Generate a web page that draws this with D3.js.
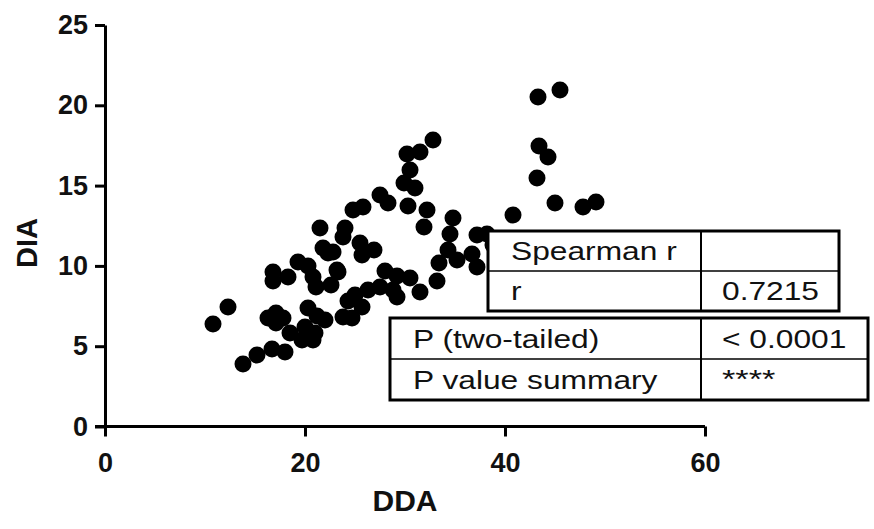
<!DOCTYPE html>
<html>
<head>
<meta charset="utf-8">
<script src="https://cdn.jsdelivr.net/npm/d3@7"></script>
<style>
  html, body { margin: 0; padding: 0; background: #fff; }
  svg { display: block; }
</style>
</head>
<body>
<svg id="chart" width="874" height="529"></svg>
<script>
// ---- data ----
const ddaValues = [
  10.8, 12.3, 13.8, 15.2, 16.7, 18.0, 16.3, 17.1, 17.1, 18.5,
  19.7, 20.8, 20.0, 21.0, 20.3, 22.0, 16.8, 16.8, 18.3, 19.3,
  20.3, 20.8, 21.1, 22.6, 23.3, 22.3, 21.5, 24.0, 23.8, 21.8,
  22.8, 25.5, 26.9, 25.7, 24.8, 25.8, 27.5, 28.3, 30.2, 31.5,
  32.8, 30.5, 29.9, 31.0, 30.3, 32.2, 31.9, 23.2, 28.0, 29.2,
  30.5, 27.5, 28.8, 26.3, 25.0, 29.2, 31.5, 33.2, 24.3, 25.7,
  24.7, 23.8, 34.8, 34.5, 34.3, 33.4, 35.2, 36.7, 37.2, 37.2,
  38.2, 38.8, 40.8, 43.3, 45.5, 43.4, 44.3, 43.2, 45.0, 47.8,
  49.1, 21.2, 17.8
];
const diaValues = [
  6.38, 7.44, 3.89, 4.45, 4.83, 4.64, 6.76, 7.07, 6.44, 5.82,
  5.39, 5.39, 6.20, 5.82, 7.38, 6.63, 9.62, 9.06, 9.31, 10.24,
  9.99, 9.31, 8.69, 8.81, 9.62, 10.80, 12.36, 12.36, 11.80, 11.11,
  10.87, 11.43, 10.99, 10.68, 13.48, 13.67, 14.41, 13.92, 16.97, 17.09,
  17.84, 15.97, 15.16, 14.85, 13.73, 13.48, 12.42, 9.74, 9.68, 9.37,
  9.25, 8.69, 8.50, 8.50, 8.19, 8.06, 8.37, 9.06, 7.81, 7.44,
  6.76, 6.82, 12.98, 11.99, 10.99, 10.18, 10.37, 10.74, 9.93, 11.92,
  11.99, 11.30, 13.17, 20.52, 20.95, 17.46, 16.78, 15.47, 13.92, 13.67,
  13.98, 6.88, 6.76
];
const xTicks = [0, 20, 40, 60];
const yTicks = [0, 5, 10, 15, 20, 25];
const xLabel = "DDA";
const yLabel = "DIA";
const tableTop = [["Spearman r", ""], ["r", "0.7215"]];
const tableBottom = [["P (two-tailed)", "< 0.0001"], ["P value summary", "****"]];

// ---- drawing ----
const svg = d3.select("#chart");
const FONT = "'Liberation Sans', Arial, Helvetica, sans-serif";

const x = d3.scaleLinear().domain([0, 60]).range([105, 705]);
const y = d3.scaleLinear().domain([0, 25]).range([426.5, 25]);

// points
svg.append("g").selectAll("circle")
  .data(ddaValues.map((d, i) => [d, diaValues[i]]))
  .join("circle")
  .attr("cx", d => x(d[0]))
  .attr("cy", d => y(d[1]))
  .attr("r", 8.5)
  .attr("fill", "#000");

// axes
const yAxis = svg.append("g")
  .attr("transform", `translate(${x(0)},0)`)
  .call(d3.axisLeft(y).tickValues(yTicks).tickSize(10).tickSizeOuter(0).tickPadding(7));
const xAxis = svg.append("g")
  .attr("transform", `translate(0,${y(0)})`)
  .call(d3.axisBottom(x).tickValues(xTicks).tickSize(10).tickSizeOuter(0).tickPadding(16));

[yAxis, xAxis].forEach(g => {
  g.selectAll(".domain, .tick line").attr("stroke", "#000").attr("stroke-width", 3);
  g.selectAll("text")
    .attr("fill", "#111")
    .style("font-family", FONT)
    .style("font-weight", "bold")
    .style("font-size", "27px");
});
xAxis.select(".domain").attr("d", `M${x(0) - 10},0H${x(60)}`);

// axis titles
svg.append("text")
  .attr("x", 405).attr("y", 511)
  .attr("text-anchor", "middle")
  .style("font-family", FONT).style("font-weight", "bold").style("font-size", "30px")
  .attr("fill", "#111")
  .text(xLabel);
svg.append("text")
  .attr("transform", "translate(37,243) rotate(-90)")
  .attr("text-anchor", "middle")
  .style("font-family", FONT).style("font-weight", "bold").style("font-size", "29px")
  .attr("fill", "#111")
  .text(yLabel);

// stats tables
function drawTable(rows, left, mid, right, top, rowH) {
  const g = svg.append("g");
  const bottom = top + rowH * rows.length;
  g.append("rect")
    .attr("x", left).attr("y", top)
    .attr("width", right - left).attr("height", bottom - top)
    .attr("fill", "#fff").attr("stroke", "#000").attr("stroke-width", 3);
  for (let i = 1; i < rows.length; i++) {
    g.append("line")
      .attr("x1", left).attr("x2", right)
      .attr("y1", top + rowH * i).attr("y2", top + rowH * i)
      .attr("stroke", "#000").attr("stroke-width", 1.5);
  }
  g.append("line")
    .attr("x1", mid).attr("x2", mid).attr("y1", top).attr("y2", bottom)
    .attr("stroke", "#000").attr("stroke-width", 2);
  rows.forEach((r, i) => {
    const by = top + rowH * i + rowH * 0.5 + 9;
    [[r[0], left + 23], [r[1], mid + 21]].forEach(([t, tx]) => {
      if (!t) return;
      const isStars = t === "****";
      g.append("text")
        .attr("transform", `translate(${tx},${isStars ? by - 1 : by}) scale(${isStars ? 1.32 : 1.22},1)`)
        .style("font-family", FONT).style("font-size", "26px")
        .attr("fill", "#111")
        .text(t);
    });
  });
}
drawTable(tableTop, 488, 701, 839, 231, 40);
drawTable(tableBottom, 390, 701, 868, 318, 41);
</script>
</body>
</html>
